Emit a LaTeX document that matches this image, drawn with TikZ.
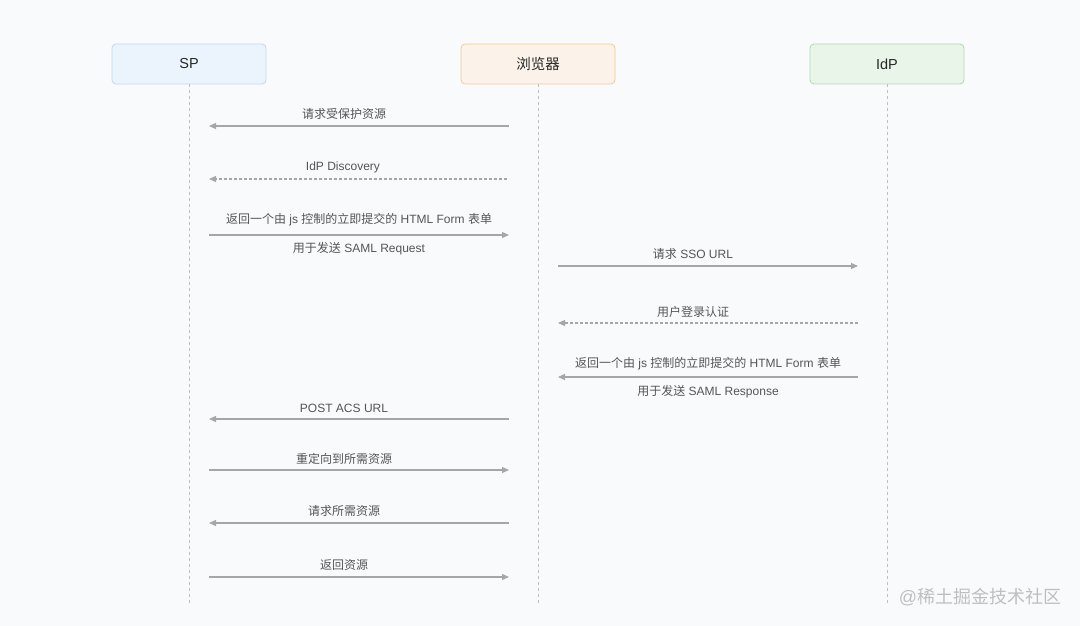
\documentclass[tikz,border=0pt]{standalone}
\usepackage{fontspec}
\setmainfont{Liberation Sans}
\newfontfamily\zh{Noto Sans CJK SC}
\usepackage{xcolor}
\usetikzlibrary{arrows.meta, positioning}
\definecolor{bgcol}{HTML}{F9FAFB}
\definecolor{spfill}{HTML}{EBF4FC}
\definecolor{spline}{HTML}{BCD9F1}
\definecolor{brfill}{HTML}{FBF3E9}
\definecolor{brline}{HTML}{F3CB9C}
\definecolor{idpfill}{HTML}{EAF5EA}
\definecolor{idpline}{HTML}{AEDBB2}
\definecolor{msgcol}{HTML}{A6A6A6}
\definecolor{lblcol}{HTML}{555555}
\tikzset{actor/.style={draw, rounded corners=4pt, minimum width=154pt,
                       minimum height=40pt, line width=0.8pt, text=black!85,
                       font=\fontsize{14.5}{16}\selectfont},
         life/.style={draw=gray!50, dash pattern=on 3pt off 3pt, line width=0.7pt},
         msg/.style={draw=msgcol, line width=1.2pt, -{Triangle[length=7pt,width=6pt]}},
         reply/.style={msg, dash pattern=on 3pt off 2pt},
         lbl/.style={font=\fontsize{12}{14}\selectfont, text=lblcol, inner sep=0pt},
         short/.style={lbl, xshift=-15pt}}

\begin{document}
\begin{tikzpicture}[x=1pt, y=-1pt]
  \fill[bgcol] (0,0) rectangle (1080,626);
  \useasboundingbox (0,0) rectangle (1080,626);
  % participants
  \node[actor, fill=spfill, draw=spline]   (sp)      at (189,64) {SP};
  \node[actor, fill=brfill, draw=brline]   (browser) at (538,64) {\zh 浏览器};
  \node[actor, fill=idpfill, draw=idpline] (idp)     at (887,64) {IdP};
  \coordinate (sp end)      at (189,605);
  \coordinate (browser end) at (538,605);
  \coordinate (idp end)     at (887,605);
  \path[life] (sp.south) -- (sp end);
  \path[life] (browser.south) -- (browser end);
  \path[life] (idp.south) -- (idp end);
  % message end points
  \coordinate (req s)  at (209,126);  \coordinate (req b)  at (509,126);
  \coordinate (disc s) at (209,179);  \coordinate (disc b) at (507,179);
  \coordinate (form s) at (209,235);  \coordinate (form b) at (509,235);
  \coordinate (sso b)  at (558,266);  \coordinate (sso i)  at (858,266);
  \coordinate (auth b) at (558,323);  \coordinate (auth i) at (858,323);
  \coordinate (resp b) at (558,377);  \coordinate (resp i) at (858,377);
  \coordinate (acs s)  at (209,419);  \coordinate (acs b)  at (509,419);
  \coordinate (redir s) at (209,470); \coordinate (redir b) at (509,470);
  \coordinate (need s) at (209,523);  \coordinate (need b) at (509,523);
  \coordinate (ret s)  at (209,577);  \coordinate (ret b)  at (509,577);
  % messages
  \path[msg]   (req b) -- node[short, above=6pt] {\zh 请求受保护资源} (req s);
  \path[reply] (disc b) -- node[short, above=5pt] {IdP Discovery} (disc s);
  \path[msg]   (form s) -- node[lbl, above=8pt] {{\zh 返回一个由} js {\zh 控制的立即提交的} HTML Form {\zh 表单}}
                           node[lbl, below=7pt] {{\zh 用于发送} SAML Request} (form b);
  \path[msg]   (sso b) -- node[short, above=6pt] {{\zh 请求} SSO URL} (sso i);
  \path[reply] (auth i) -- node[short, above=5pt] {\zh 用户登录认证} (auth b);
  \path[msg]   (resp i) -- node[lbl, above=6pt] {{\zh 返回一个由} js {\zh 控制的立即提交的} HTML Form {\zh 表单}}
                           node[lbl, below=8pt] {{\zh 用于发送} SAML Response} (resp b);
  \path[msg]   (acs b) -- node[short, above=6pt] {POST ACS URL} (acs s);
  \path[msg]   (redir s) -- node[short, above=5pt] {\zh 重定向到所需资源} (redir b);
  \path[msg]   (need b) -- node[short, above=6pt] {\zh 请求所需资源} (need s);
  \path[msg]   (ret s) -- node[short, above=6pt] {\zh 返回资源} (ret b);
  % watermark
  \node[font=\fontsize{18}{20}\selectfont, text=black!25, inner sep=0pt] (mark) at (980,597) {@{\zh 稀土掘金技术社区}};
\end{tikzpicture}
\end{document}
